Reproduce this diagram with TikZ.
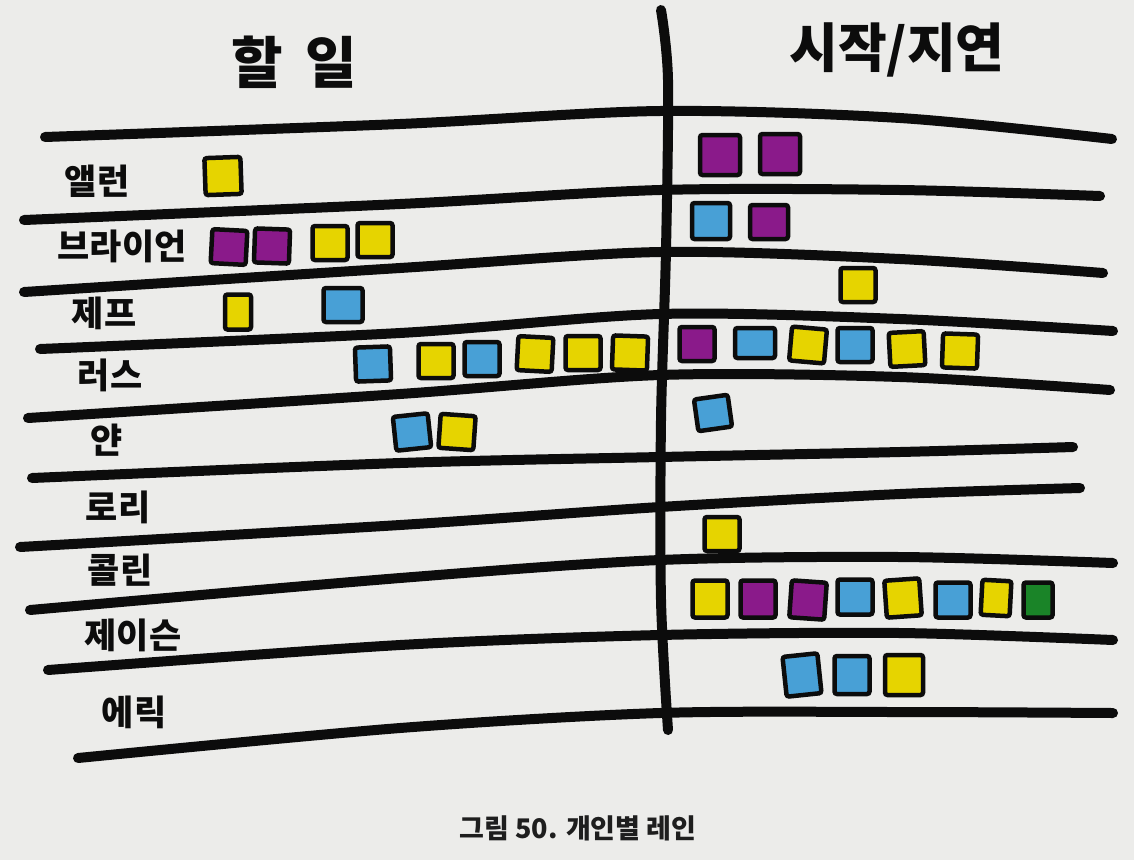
\documentclass[tikz,border=0pt]{standalone}
\usepackage{fontspec}
\newfontfamily\kr{Noto Sans CJK KR}
\definecolor{paper}{RGB}{236,236,234}
\definecolor{ink}{RGB}{12,12,12}
\definecolor{cy}{RGB}{230,212,0}
\definecolor{cp}{RGB}{138,26,138}
\definecolor{cb}{RGB}{72,160,214}
\definecolor{cg}{RGB}{26,132,40}
\definecolor{capgray}{RGB}{30,30,30}
\tikzset{
  lane/.style={ink, line width=10, line cap=round, line join=round},
  card/.style={draw=ink, line width=4.5, rounded corners=2.5, inner sep=0pt,
    minimum width=35, minimum height=34},
  lbl/.style={font=\kr\bfseries\fontsize{35}{38}\selectfont, text=ink, inner sep=0pt},
  headtxt/.style={font=\kr\bfseries\fontsize{56}{62}\selectfont, text=ink, inner sep=0pt},
}
\newcommand{\card}[5]{\node[card, fill=#4, rotate=#5] (#1) at (#2,#3) {};}
\begin{document}
\begin{tikzpicture}[x=1pt,y=-1pt]
\useasboundingbox (0,0) rectangle (1134,860);
\fill[paper] (0,0) rectangle (1134,860);

% lane separators
\draw[lane] plot[smooth] coordinates {(45,137) (400,124) (660,111) (900,118) (1112,139)};
\draw[lane] plot[smooth] coordinates {(24,220) (400,204) (660,190) (900,190) (1100,196)};
\draw[lane] plot[smooth] coordinates {(24,292) (400,268) (660,252) (900,259) (1103,273)};
\draw[lane] plot[smooth] coordinates {(40,349) (400,333) (660,314) (900,319) (1113,331)};
\draw[lane] plot[smooth] coordinates {(28,418) (400,394) (660,375) (900,377) (1110,390)};
\draw[lane] plot[smooth] coordinates {(32,478) (400,463) (660,457) (900,452) (1073,447)};
\draw[lane] plot[smooth] coordinates {(20,547) (400,525) (660,507) (900,494) (1080,488)};
\draw[lane] plot[smooth] coordinates {(30,610) (400,578) (660,560) (900,557) (1113,563)};
\draw[lane] plot[smooth] coordinates {(48,670) (400,645) (660,635) (900,633) (1113,640)};
\draw[lane] plot[smooth] coordinates {(78,758) (400,728) (660,713) (900,712) (1113,713)};
% divider
\draw[lane] plot[smooth] coordinates {(661,10) (668,80) (666,250) (661,420) (661,600) (668,730)};

% headings
\node[headtxt] (todo) at (294,62) {할\hspace{0.4em}일};
\node[headtxt, font=\kr\bfseries\fontsize{53}{58}\selectfont] (doing) at (897,50) {시작/지연};

% names
\node[lbl] (n1) at (97,181) {앨런};
\node[lbl] (n2) at (122,246) {브라이언};
\node[lbl] (n3) at (104,313) {제프};
\node[lbl] (n4) at (110,375) {러스};
\node[lbl] (n5) at (107,440) {얀};
\node[lbl] (n6) at (118,507) {로리};
\node[lbl] (n7) at (120,570) {콜린};
\node[lbl] (n8) at (133,635) {제이슨};
\node[lbl] (n9) at (134,712) {에릭};

% left cards
\node[card, fill=cy, rotate=2, minimum width=36, minimum height=37] (a1) at (223,176) {};
\card{b1}{229}{247}{cp}{-3}
\card{b2}{272}{246}{cp}{-2}
\card{b3}{330}{243}{cy}{0}
\card{b4}{375}{240}{cy}{0}
\node[card, fill=cy, minimum width=26, minimum height=35] (j1) at (238,312) {};
\node[card, fill=cb, minimum width=39] (j2) at (343,305) {};
\card{r1}{373}{364}{cb}{2}
\card{r2}{436}{361}{cy}{0}
\card{r3}{482}{359}{cb}{0}
\card{r4}{535}{354}{cy}{-3}
\card{r5}{583}{353}{cy}{0}
\card{r6}{630}{353}{cy}{-2}
\card{y1}{412}{432}{cb}{6}
\card{y2}{457}{432}{cy}{-4}

% right cards
\node[card, fill=cp, minimum width=40, minimum height=40] (A1) at (720,155) {};
\node[card, fill=cp, minimum width=40, minimum height=40] (A2) at (780,154) {};
\node[card, fill=cb, minimum width=38, minimum height=36] (B1) at (711,221) {};
\node[card, fill=cp, minimum width=38, minimum height=34] (B2) at (769,222) {};
\card{J1}{858}{285}{cy}{0}
\card{R1}{697}{344}{cp}{0}
\node[card, fill=cb, minimum width=40, minimum height=30] (R2) at (755,343) {};
\card{R3}{808}{345}{cy}{-5}
\card{R4}{855}{345}{cb}{0}
\card{R5}{907}{349}{cy}{3}
\card{R6}{960}{351}{cy}{-2}
\node[card, fill=cb, rotate=8, minimum width=34, minimum height=32] (Y1) at (713,413) {};
\card{L1}{722}{534}{cy}{0}
\node[card, fill=cy, minimum height=37] (S1) at (710,599) {};
\node[card, fill=cp, minimum height=37] (S2) at (758,599) {};
\node[card, fill=cp, minimum height=37, rotate=-4] (S3) at (808,600) {};
\node[card, fill=cb, minimum height=35] (S4) at (855,597) {};
\node[card, fill=cy, minimum height=37, rotate=4] (S5) at (903,598) {};
\node[card, fill=cb, minimum height=35] (S6) at (953,600) {};
\node[card, fill=cy, minimum width=29, minimum height=35, rotate=-3] (S7) at (996,598) {};
\node[card, fill=cg, minimum width=29, minimum height=35] (S8) at (1038,600) {};
\node[card, fill=cb, minimum height=40, rotate=6] (E1) at (802,675) {};
\node[card, fill=cb, minimum height=38] (E2) at (852,675) {};
\node[card, fill=cy, minimum width=38, minimum height=40] (E3) at (904,675) {};

% caption
\node[font=\kr\bfseries\fontsize{27}{30}\selectfont, text=capgray, inner sep=0pt] (cap) at (578,828) {그림 50. 개인별 레인};
\end{tikzpicture}
\end{document}
